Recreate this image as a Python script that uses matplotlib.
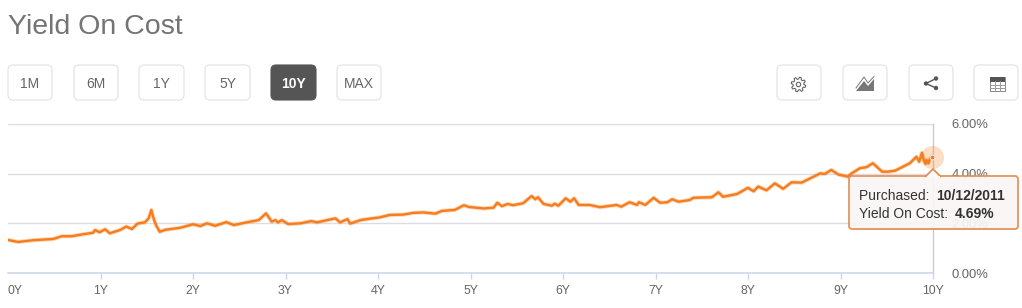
#!/usr/bin/env python3
"""Yield On Cost chart with the page controls around it."""
import matplotlib
matplotlib.use("Agg")
import matplotlib.pyplot as plt
import numpy as np
from matplotlib.patches import Circle, FancyBboxPatch, Polygon, Rectangle

years = [0, .11, .27, .49, .58, .69, .81, .92, .94, .99, 1.05, 1.10, 1.21, 1.28, 1.34, 1.40, 1.48,
         1.52, 1.55, 1.57, 1.60, 1.64, 1.70, 1.86, 2.00, 2.08, 2.15, 2.24, 2.36, 2.44, 2.58, 2.71,
         2.79, 2.85, 2.89, 2.92, 2.96, 3.03, 3.16, 3.28, 3.34, 3.54, 3.59, 3.67, 3.70, 3.81, 3.92, 4.02, 4.13,
         4.27, 4.38, 4.49, 4.62, 4.69, 4.83, 4.93, 4.98, 5.14, 5.25, 5.29, 5.34, 5.40, 5.46, 5.57, 5.66,
         5.70, 5.73, 5.79, 5.88, 5.91, 5.95, 6.03, 6.08, 6.12, 6.17, 6.29, 6.40, 6.58, 6.63, 6.72,
         6.80, 6.82, 6.89, 6.98, 7.05, 7.13, 7.18, 7.25, 7.37, 7.41, 7.61, 7.68, 7.73, 7.88, 8.00,
         8.06, 8.11, 8.20, 8.29, 8.38, 8.47, 8.58, 8.78, 8.83, 8.90, 8.98, 9.08, 9.12, 9.21, 9.28,
         9.35, 9.45, 9.51, 9.59, 9.75, 9.82, 9.85, 9.88, 9.90, 9.92, 9.93, 9.95, 9.96, 9.97, 9.99]
yield_on_cost = [1.33, 1.25, 1.32, 1.37, 1.48, 1.48, 1.56, 1.62, 1.73, 1.64, 1.76, 1.60, 1.73, 1.87, 1.77,
                 1.99, 2.04, 2.20, 2.54, 2.24, 1.93, 1.66, 1.74, 1.82, 1.96, 1.89, 2.00, 1.90, 2.05, 1.93,
                 2.04, 2.13, 2.40, 2.07, 2.13, 2.04, 2.13, 1.97, 2.00, 2.09, 2.04, 2.20, 2.04, 2.17, 1.99,
                 2.13, 2.19, 2.24, 2.34, 2.35, 2.42, 2.44, 2.39, 2.50, 2.54, 2.73, 2.66, 2.60, 2.63, 2.83, 2.69, 2.78, 2.73,
                 2.81, 3.10, 2.97, 3.05, 2.78, 2.71, 2.79, 2.71, 3.01, 2.87, 3.01, 2.74, 2.74, 2.65, 2.74,
                 2.67, 2.85, 2.74, 2.85, 2.74, 3.03, 2.83, 2.85, 2.97, 2.87, 2.94, 3.03, 3.05, 3.25, 3.07,
                 3.18, 3.43, 3.29, 3.48, 3.33, 3.61, 3.39, 3.65, 3.64, 4.01, 3.99, 4.15, 3.96, 3.88, 4.01,
                 4.22, 4.26, 4.42, 4.08, 4.08, 4.12, 4.42, 4.68, 4.48, 4.84, 4.55, 4.40, 4.55, 4.42, 4.52, 4.62, 4.69]
x_ticks = list(range(11))
x_labels = ["0Y", "1Y", "2Y", "3Y", "4Y", "5Y", "6Y", "7Y", "8Y", "9Y", "10Y"]
y_ticks = [0, 2, 4, 6]
y_labels = ["0.00%", "2.00%", "4.00%", "6.00%"]
range_buttons = ["1M", "6M", "1Y", "5Y", "10Y", "MAX"]
active_button = "10Y"
tooltip_date = "10/12/2011"
tooltip_value = "4.69%"

W, H = 1022, 308
ORANGE = "#f77c1b"
GRID = "#dcdce2"
TEXT = "#666666"

plt.rcParams["font.family"] = ["Liberation Sans", "DejaVu Sans"]

fig = plt.figure(figsize=(W / 100, H / 100), dpi=100)

# main chart, placed by pixels
ax = fig.add_axes([8 / W, 1 - 273 / H, 925 / W, 149 / H])
ax.set_xlim(0, 10)
ax.set_ylim(0, 6)
ax.plot(years, yield_on_cost, color=ORANGE, lw=3.0, alpha=0.3, solid_joinstyle="round", zorder=3)
ax.plot(years, yield_on_cost, color=ORANGE, lw=1.7, solid_joinstyle="round", zorder=3)
ax.scatter([years[-1]], [yield_on_cost[-1]], s=275, color=ORANGE, alpha=0.25, lw=0, clip_on=False, zorder=4)
ax.scatter([years[-1]], [yield_on_cost[-1]], s=12, color=ORANGE, edgecolor="white", lw=0.6, clip_on=False, zorder=5)

for side in ["left", "top"]:
    ax.spines[side].set_visible(False)
ax.spines["right"].set_color("#c9c9d2")
ax.spines["right"].set_linewidth(1)
ax.spines["bottom"].set_color("#ccd6eb")
ax.spines["bottom"].set_linewidth(1.1)
ax.grid(axis="y", color=GRID, lw=1, zorder=1)
ax.set_xticks(x_ticks, x_labels)
ax.set_yticks(y_ticks, y_labels)
ax.yaxis.tick_right()
ax.tick_params(axis="y", length=0, pad=13.5, labelsize=9.4, labelcolor=TEXT)
ax.tick_params(axis="x", length=4.5, width=1, color="#ccd6eb", pad=4, labelsize=8.8, labelcolor=TEXT)
ax.xaxis.get_ticklines()[0].set_visible(False)
ax.get_xticklabels()[0].set_ha("left")

# page furniture on top, in pixel coordinates
ui = fig.add_axes([0, 0, 1, 1])
ui.set_xlim(0, W)
ui.set_ylim(H, 0)
ui.axis("off")
ui.patch.set_alpha(0)

ui.text(8, 34, "Yield On Cost", fontsize=20.5, color="#747474", va="baseline")


def button(x0, x1, label=None, active=False):
    ui.add_patch(FancyBboxPatch((x0 + 4, 69), x1 - x0 - 8, 27, boxstyle="round,pad=4,rounding_size=5",
                                fc="#555555" if active else "white",
                                ec="#555555" if active else "#e2e2e2", lw=0.8))
    if label:
        ui.text((x0 + x1) / 2, 83, label, fontsize=10, ha="center", va="center_baseline",
                color="white" if active else TEXT, fontweight="bold" if active else "normal")


button_spans = [(8, 52), (74, 118), (139, 184), (205, 250), (271, 316), (337, 381)]
for (x0, x1), name in zip(button_spans, range_buttons):
    button(x0, x1, name, name == active_button)
for x0, x1 in [(777, 821), (843, 887), (909, 953), (974, 1018)]:
    button(x0, x1)

# gear icon, thin outline with eight teeth
angles = np.linspace(0, 2 * np.pi, 48, endpoint=False) + np.pi / 24
radii = np.where((np.arange(48) % 6) < 3, 7.3, 5.4)
ui.add_patch(Polygon(np.c_[798.5 + radii * np.cos(angles), 84.5 + radii * np.sin(angles)],
                     fc="white", ec="#666666", lw=0.8, joinstyle="round"))
ui.add_patch(Circle((798.5, 84.5), 2.2, fc="white", ec="#666666", lw=0.8))
# area chart icon
ui.add_patch(Polygon([(856, 91), (864, 81), (868, 86), (874, 79), (874, 91)], fc="#777777", ec="none"))
ui.plot([856, 864, 868, 874], [88, 77, 83, 76.5], color="#777777", lw=0.7)
# share icon
ui.plot([936, 926, 936], [78.5, 83.5, 88], color="#555555", lw=1)
for cx, cy in [(936, 78.5), (926, 83.5), (936, 88)]:
    ui.add_patch(Circle((cx, cy), 2.2, fc="#555555", ec="none"))
# table icon
ui.add_patch(Rectangle((989.5, 77), 15.5, 13.5, fc="white", ec="#888888", lw=0.7))
ui.add_patch(Rectangle((989.5, 77), 15.5, 4.5, fc="#555555", ec="none"))
for gx in [994.7, 999.8]:
    ui.plot([gx, gx], [81, 90.5], color="#999999", lw=0.7)
for gy in [84.5, 87.5]:
    ui.plot([989.5, 1005], [gy, gy], color="#999999", lw=0.7)

# tooltip
ui.add_patch(FancyBboxPatch((852, 179), 163, 48, boxstyle="round,pad=2,rounding_size=3",
                            fc="#e8955c", ec="none", alpha=0.25, zorder=5, transform=ui.transData + matplotlib.transforms.ScaledTranslation(1 / 100, -1 / 100, fig.dpi_scale_trans)))
ui.add_patch(FancyBboxPatch((851, 178), 165, 49, boxstyle="round,pad=2,rounding_size=3",
                            fc="#f9f9f9", ec="#e5894a", lw=1.3, alpha=0.9, zorder=6))
ui.add_patch(Polygon([(925, 177), (933, 169), (941, 177)], closed=False, fc="#f9f9f9", ec="#e5894a", lw=1.2, zorder=7))
ui.add_patch(Rectangle((926.5, 175.5), 13, 2.5, fc="#f9f9f9", ec="none", zorder=7))
ui.text(859, 194, "Purchased: ", fontsize=10, color="#333333", va="center_baseline", zorder=8)
ui.text(936, 194, tooltip_date, fontsize=10, color="#333333", fontweight="bold", va="center_baseline", zorder=8)
ui.text(859, 212, "Yield On Cost: ", fontsize=10, color="#333333", va="center_baseline", zorder=8)
ui.text(955, 212, tooltip_value, fontsize=10, color="#333333", fontweight="bold", va="center_baseline", zorder=8)

fig.savefig("out.png", dpi=100)
